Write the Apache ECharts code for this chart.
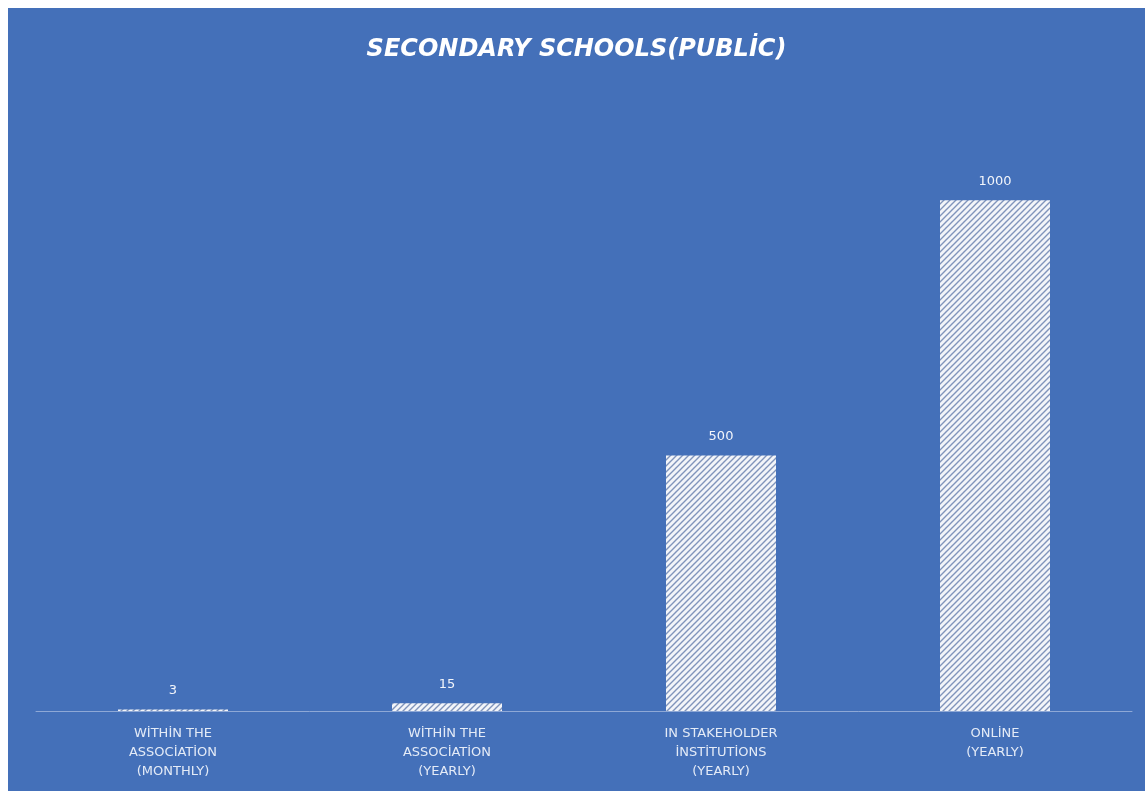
<!DOCTYPE html>
<html>
<head>
<meta charset="utf-8">
<script src="https://cdn.jsdelivr.net/npm/echarts@6/dist/echarts.min.js"></script>
<style>
body { margin:0; background:#fff; }
#main { position:absolute; left:8px; top:8px; width:1137px; height:783px; background:#4470b9; }
</style>
</head>
<body>
<div id="main"></div>
<script>
    var categories = ['WİTHİN THE\nASSOCİATİON\n(MONTHLY)', 'WİTHİN THE\nASSOCİATİON\n(YEARLY)', 'IN STAKEHOLDER\nİNSTİTUTİONS\n(YEARLY)', 'ONLİNE\n(YEARLY)'];
    var values = [3, 15, 500, 1000];

    // hatch pattern for the bars
    var pat = document.createElement('canvas');
    pat.width = 6; pat.height = 6;
    var ctx = pat.getContext('2d');
    ctx.fillStyle = '#f3f5f9';
    ctx.fillRect(0, 0, 6, 6);
    ctx.strokeStyle = '#8094bb';
    ctx.lineWidth = 1.4;
    ctx.beginPath();
    ctx.moveTo(0, 6); ctx.lineTo(6, 0);
    ctx.moveTo(-3, 3); ctx.lineTo(3, -3);
    ctx.moveTo(3, 9); ctx.lineTo(9, 3);
    ctx.stroke();

    var myChart = echarts.init(document.getElementById('main'));
    var option = {
        backgroundColor: '#4470b9',
        title: {
            text: 'SECONDARY SCHOOLS(PUBLİC)',
            left: 'center',
            top: 25,
            textStyle: {
                color: '#ffffff',
                fontFamily: 'DejaVu Sans',
                fontStyle: 'italic',
                fontWeight: 'bold',
                fontSize: 24
            }
        },
        grid: { left: 28, right: 13, top: 90, bottom: 80 },
        xAxis: {
            type: 'category',
            data: categories,
            axisLine: { lineStyle: { color: '#8ea8d6', width: 1 } },
            axisTick: { show: false },
            axisLabel: {
                color: '#e4ebf7',
                fontFamily: 'DejaVu Sans',
                fontSize: 13,
                lineHeight: 19,
                margin: 13
            }
        },
        yAxis: {
            type: 'value',
            min: 0,
            max: 1200,
            show: false,
            splitLine: { show: false }
        },
        series: [
            {
                type: 'bar',
                data: values,
                barWidth: 110,
                itemStyle: {
                    color: { image: pat, repeat: 'repeat' }
                },
                label: {
                    show: true,
                    position: 'top',
                    distance: 12,
                    color: '#f2f5fb',
                    fontFamily: 'DejaVu Sans',
                    fontSize: 13
                }
            }
        ]
    };
    myChart.setOption(option);
</script>
</body>
</html>
